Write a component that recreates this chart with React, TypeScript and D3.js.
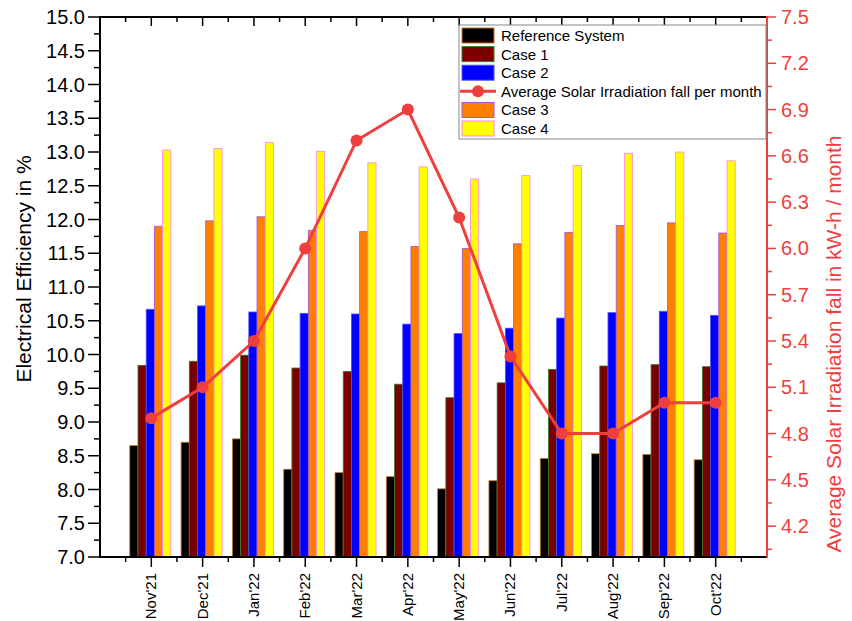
import React from "react";
import * as d3 from "d3";

const categories = ["Nov'21", "Dec'21", "Jan'22", "Feb'22", "Mar'22", "Apr'22", "May'22", "Jun'22", "Jul'22", "Aug'22", "Sep'22", "Oct'22"];
const reference = [8.65, 8.7, 8.75, 8.3, 8.25, 8.19, 8.01, 8.13, 8.46, 8.53, 8.52, 8.44];
const case1 = [9.84, 9.9, 9.99, 9.8, 9.75, 9.56, 9.36, 9.58, 9.78, 9.83, 9.85, 9.82];
const case2 = [10.67, 10.72, 10.63, 10.61, 10.6, 10.45, 10.31, 10.39, 10.54, 10.62, 10.64, 10.58];
const case3 = [11.9, 11.98, 12.04, 11.84, 11.82, 11.6, 11.57, 11.64, 11.81, 11.91, 11.95, 11.8];
const case4 = [13.03, 13.05, 13.14, 13.01, 12.84, 12.78, 12.6, 12.65, 12.8, 12.98, 13.0, 12.87];
const irradiation = [4.9, 5.1, 5.4, 6.0, 6.7, 6.9, 6.2, 5.3, 4.8, 4.8, 5.0, 5.0];

const leftTicks = [7.0, 7.5, 8.0, 8.5, 9.0, 9.5, 10.0, 10.5, 11.0, 11.5, 12.0, 12.5, 13.0, 13.5, 14.0, 14.5, 15.0];
const rightTicks = [4.2, 4.5, 4.8, 5.1, 5.4, 5.7, 6.0, 6.3, 6.6, 6.9, 7.2, 7.5];

const seriesNames = ["Reference System", "Case 1", "Case 2", "Case 3", "Case 4"];
const seriesFill = ["#000000", "#7a0000", "#0000ff", "#ff8000", "#ffff00"];
const seriesStroke = ["#c87828", "#3c7a2c", "#5050ff", "#a050e0", "#ff80ff"];
const RED = "#ef3e3e";
const FONT = "'Liberation Sans', Arial, sans-serif";

export default function App() {
  const W = 852, H = 621;
  const L = 100, R = 767, T = 17, B = 557;
  const x = d3.scaleLinear().domain([0, categories.length + 1]).range([L, R]);
  const y = d3.scaleLinear().domain([7, 15]).range([B, T]);
  const y2 = d3.scaleLinear().domain([4.0, 7.5]).range([B, T]);
  const data = [reference, case1, case2, case3, case4];
  const bw = x(0.16) - x(0);

  const minorLeft = d3.range(7.25, 15, 0.5);
  const minorRight = d3.range(4.05, 7.5, 0.3);
  const majorX = d3.range(1, categories.length + 1);
  const minorX = d3.range(0.5, categories.length + 1, 1);

  const line = d3
    .line<number>()
    .x((_, i) => x(i + 1))
    .y((d) => y2(d));

  const legendRows = [
    { type: "bar", idx: 0, label: seriesNames[0] },
    { type: "bar", idx: 1, label: seriesNames[1] },
    { type: "bar", idx: 2, label: seriesNames[2] },
    { type: "line", idx: -1, label: "Average Solar Irradiation fall per month" },
    { type: "bar", idx: 3, label: seriesNames[3] },
    { type: "bar", idx: 4, label: seriesNames[4] },
  ];

  return (
    <svg width={W} height={H} style={{ position: "absolute", left: 0, top: 0, background: "#fff" }} fontFamily={FONT}>
      <rect x={0} y={0} width={W} height={H} fill="#fff" />
      {/* bars */}
      {categories.map((c, ci) =>
        data.map((s, si) => {
          const cx = x(ci + 1);
          const x0 = cx - 2.5 * bw + si * bw - 1;
          return (
            <rect
              key={c + si}
              x={x0}
              y={y(s[ci])}
              width={bw}
              height={y(7) - y(s[ci])}
              fill={seriesFill[si]}
              stroke={seriesStroke[si]}
              strokeWidth={0.8}
            />
          );
        })
      )}
      {/* line */}
      <path d={line(irradiation) || ""} fill="none" stroke={RED} strokeWidth={3} />
      {irradiation.map((v, i) => (
        <circle key={i} cx={x(i + 1)} cy={y2(v)} r={6} fill={RED} />
      ))}

      {/* frame: top and bottom */}
      <line x1={L} x2={R} y1={T} y2={T} stroke="#000" strokeWidth={2} />
      <line x1={L} x2={R} y1={B} y2={B} stroke="#000" strokeWidth={2} />
      {majorX.map((v) => (
        <g key={"mx" + v}>
          <line x1={x(v)} x2={x(v)} y1={B} y2={B + 10} stroke="#000" strokeWidth={1.5} />
          <line x1={x(v)} x2={x(v)} y1={T} y2={T + 9} stroke="#000" strokeWidth={1.5} />
        </g>
      ))}
      {minorX.map((v) => (
        <g key={"nx" + v}>
          <line x1={x(v)} x2={x(v)} y1={B} y2={B + 5} stroke="#000" strokeWidth={1.5} />
          <line x1={x(v)} x2={x(v)} y1={T} y2={T + 5} stroke="#000" strokeWidth={1.5} />
        </g>
      ))}
      {categories.map((c, i) => (
        <text
          key={c}
          transform={`translate(${x(i + 1) + 5},${B + 16}) rotate(-90)`}
          textAnchor="end"
          fontSize={15}
          fill="#000"
        >
          {c}
        </text>
      ))}

      {/* left axis */}
      <line x1={L} x2={L} y1={T - 1} y2={B + 1} stroke="#000" strokeWidth={2} />
      {leftTicks.map((v) => (
        <g key={"l" + v}>
          <line x1={L - 12} x2={L} y1={y(v)} y2={y(v)} stroke="#000" strokeWidth={1.5} />
          <text x={L - 15} y={y(v) + 7} textAnchor="end" fontSize={20} fill="#000">
            {v.toFixed(1)}
          </text>
        </g>
      ))}
      {minorLeft.map((v) => (
        <line key={"lm" + v} x1={L - 6} x2={L} y1={y(v)} y2={y(v)} stroke="#000" strokeWidth={1.5} />
      ))}
      <text transform={`translate(31,269) rotate(-90)`} textAnchor="middle" fontSize={21} fill="#000">
        Electrical Efficiency in %
      </text>

      {/* right axis */}
      <line x1={R} x2={R} y1={T - 1} y2={B + 1} stroke={RED} strokeWidth={2} />
      {rightTicks.map((v) => (
        <g key={"r" + v}>
          <line x1={R} x2={R + 9} y1={y2(v)} y2={y2(v)} stroke={RED} strokeWidth={1.5} />
          <text x={R + 14} y={y2(v) + 7} textAnchor="start" fontSize={20} fill={RED}>
            {v.toFixed(1)}
          </text>
        </g>
      ))}
      {minorRight.map((v) => (
        <line key={"rm" + v} x1={R} x2={R + 5} y1={y2(v)} y2={y2(v)} stroke={RED} strokeWidth={1.5} />
      ))}
      <text transform={`translate(841,344) rotate(-90)`} textAnchor="middle" fontSize={21} fill={RED}>
        Average Solar Irradiation fall in kW-h / month
      </text>

      {/* legend */}
      <rect x={459} y={25} width={307} height={114} fill="#fff" stroke="#888" strokeWidth={1} />
      {legendRows.map((r, i) => {
        const cy = 35.5 + i * 18.6;
        return (
          <g key={r.label}>
            {r.type === "bar" ? (
              <rect x={462} y={cy - 7.5} width={32} height={15} fill={seriesFill[r.idx]} stroke={seriesStroke[r.idx]} strokeWidth={1} />
            ) : (
              <g>
                <line x1={460} x2={496} y1={cy} y2={cy} stroke={RED} strokeWidth={3} />
                <circle cx={478} cy={cy} r={6} fill={RED} />
              </g>
            )}
            <text x={501} y={cy + 5.5} fontSize={15} fill="#000">
              {r.label}
            </text>
          </g>
        );
      })}
    </svg>
  );
}
